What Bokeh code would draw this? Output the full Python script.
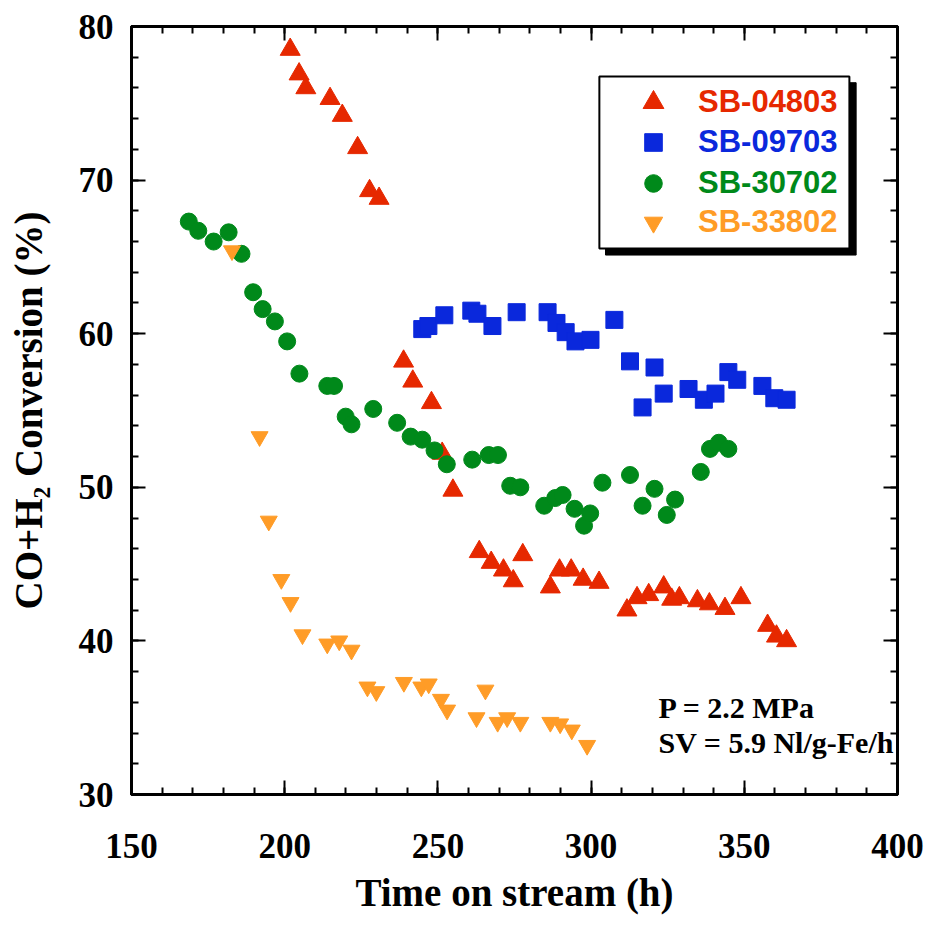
from bokeh.plotting import figure
from bokeh.models import (Range1d, SingleIntervalTicker, LinearAxis, Legend, LegendItem,
                          BoxAnnotation, Label, CustomJSTickFormatter)
from bokeh.embed import file_html
from bokeh.resources import INLINE

# ---- data ----
red_x = [201.8, 204.7, 206.9, 214.8, 218.8, 223.8, 227.7, 230.8, 238.8, 241.8, 247.9, 251.4,
         254.9, 263.5, 267.4, 271.4, 274.6, 277.7, 286.7, 289.7, 293.5, 297.4, 302.6, 311.7,
         315.0, 318.8, 323.7, 326.3, 328.8, 334.7, 338.6, 343.7, 348.9, 357.6, 360.5, 363.8]
red_y = [78.5, 76.9, 76.0, 75.3, 74.2, 72.1, 69.3, 68.8, 58.2, 56.9, 55.5, 52.2,
         49.8, 45.8, 45.1, 44.6, 43.9, 45.6, 43.5, 44.6, 44.6, 44.0, 43.8, 42.0,
         42.8, 43.0, 43.5, 42.7, 42.8, 42.6, 42.4, 42.1, 42.8, 41.0, 40.3, 40.0]

blue_x = [244.9, 246.9, 252.1, 260.9, 262.9, 267.8, 275.7, 285.8, 288.7, 291.7, 294.9, 299.8,
          307.6, 312.7, 316.8, 320.7, 323.7, 331.8, 336.8, 340.6, 344.8, 347.7, 355.9, 359.8, 363.8]
blue_y = [60.3, 60.5, 61.2, 61.5, 61.3, 60.5, 61.4, 61.4, 60.7, 60.1, 59.5, 59.6,
          60.9, 58.2, 55.2, 57.8, 56.1, 56.4, 55.7, 56.1, 57.5, 57.0, 56.6, 55.8, 55.7]

green_x = [168.7, 171.8, 176.8, 181.7, 185.9, 189.7, 192.8, 196.8, 200.8, 204.8, 213.9, 216.1,
           219.9, 221.8, 228.9, 236.7, 241.1, 244.9, 248.9, 252.9, 261.2, 266.6, 269.6, 273.6,
           276.9, 284.7, 288.3, 290.7, 294.6, 297.7, 299.7, 303.7, 312.7, 316.8, 320.7, 324.7,
           327.4, 335.8, 338.8, 341.7, 344.8]
green_y = [67.3, 66.7, 66.0, 66.6, 65.2, 62.7, 61.6, 60.8, 59.5, 57.4, 56.6, 56.6,
           54.6, 54.1, 55.1, 54.2, 53.3, 53.1, 52.4, 51.5, 51.8, 52.1, 52.1, 50.1,
           50.0, 48.8, 49.3, 49.5, 48.6, 47.5, 48.3, 50.3, 50.8, 48.8, 49.9, 48.2,
           49.2, 51.0, 52.5, 52.9, 52.5]

orange_x = [182.8, 191.8, 194.8, 198.9, 201.9, 205.8, 213.9, 217.8, 221.8, 227.0, 229.9, 238.9,
            244.6, 247.0, 251.0, 253.0, 262.6, 265.5, 269.5, 272.6, 276.9, 286.7, 289.9, 293.7, 298.7]
orange_y = [65.4, 53.3, 47.8, 44.0, 42.5, 40.4, 39.8, 40.0, 39.4, 37.0, 36.7, 37.3,
            37.0, 37.2, 36.2, 35.5, 35.0, 36.8, 34.7, 35.0, 34.7, 34.7, 34.6, 34.2, 33.2]

series_names = ["SB-04803", "SB-09703", "SB-30702", "SB-33802"]
series_colors = ["#E62800", "#0A28DC", "#00891A", "#FF9C27"]

x_title = "Time on stream (h)"
y_title = "CO+H\u2082 Conversion (%)"
note_lines = ["P = 2.2 MPa", "SV = 5.9 Nl/g-Fe/h"]

SERIF = "Liberation Serif"
SANS = "Liberation Sans"

p = figure(width=929, height=928, output_backend="svg", toolbar_location=None,
           x_range=Range1d(150, 400), y_range=Range1d(30, 80),
           min_border_left=131, min_border_right=32, min_border_top=26, min_border_bottom=134,
           background_fill_color="white", border_fill_color="white")
p.xgrid.visible = False
p.ygrid.visible = False
p.outline_line_color = "black"
p.outline_line_width = 3
p.outline_line_alpha = 1

p.xaxis.ticker = SingleIntervalTicker(interval=50, num_minor_ticks=5)
p.yaxis.ticker = SingleIntervalTicker(interval=10, num_minor_ticks=5)

def style_axis(ax):
    ax.axis_line_width = 3
    ax.axis_line_color = "black"
    ax.major_tick_in = 14
    ax.major_tick_out = 0
    ax.minor_tick_in = 7
    ax.minor_tick_out = 0
    ax.major_tick_line_width = 2
    ax.minor_tick_line_width = 2
    ax.major_tick_line_color = "black"
    ax.minor_tick_line_color = "black"
    ax.major_label_text_font = SERIF
    ax.major_label_text_font_style = "bold"
    ax.major_label_text_font_size = "35px"
    ax.major_label_text_color = "black"
    ax.axis_label_text_font = SERIF
    ax.axis_label_text_font_style = "bold"
    ax.axis_label_text_font_size = "39px"
    ax.axis_label_text_color = "black"

for ax in (p.xaxis[0], p.yaxis[0]):
    style_axis(ax)
p.xaxis.axis_label = x_title
p.yaxis.axis_label = y_title
p.xaxis.major_label_standoff = 39
p.xaxis.axis_label_standoff = 10
p.yaxis.major_label_standoff = 18
p.yaxis.axis_label_standoff = 26

blank = CustomJSTickFormatter(code="return ''")
top_ax = LinearAxis(ticker=SingleIntervalTicker(interval=50, num_minor_ticks=5), formatter=blank)
right_ax = LinearAxis(ticker=SingleIntervalTicker(interval=10, num_minor_ticks=5), formatter=blank)
for ax in (top_ax, right_ax):
    style_axis(ax)
    ax.major_label_standoff = 0
p.add_layout(top_ax, "above")
p.add_layout(right_ax, "right")

r_red = p.scatter(red_x, red_y, marker="triangle", size=20, color=series_colors[0])
r_blue = p.scatter(blue_x, blue_y, marker="square", size=17, color=series_colors[1])
r_green = p.scatter(green_x, green_y, marker="circle", size=17, color=series_colors[2])
r_orange = p.scatter(orange_x, orange_y, marker="inverted_triangle", size=17, color=series_colors[3])

# legend frame with drop shadow
p.add_layout(BoxAnnotation(left=304.7, right=386.5, top=76.34, bottom=65.12,
                           fill_color="black", fill_alpha=1, line_color="black",
                           line_alpha=1, line_width=1))
p.add_layout(BoxAnnotation(left=302.7, right=384.3, top=76.74, bottom=65.55,
                           fill_color="white", fill_alpha=1, line_color="black",
                           line_alpha=1, line_width=2))

# one legend per series so every label keeps its own colour
leg_specs = [
    (r_red, 52, 496, 666),
    (r_blue, 44, 500, 630),
    (r_green, 44, 500, 589),
    (r_orange, 46, 499, 549),
]
for (rend, g, lx, ly), name, col in zip(leg_specs, series_names, series_colors):
    leg = Legend(items=[LegendItem(label=name, renderers=[rend])], location=(lx, ly),
                 orientation="vertical", background_fill_alpha=0, border_line_color=None,
                 padding=0, margin=0, spacing=0, glyph_width=g, glyph_height=g,
                 label_standoff=45 - g // 2, label_text_font=SANS, label_text_font_style="bold",
                 label_text_font_size="31px", label_text_color=col, label_height=20)
    p.add_layout(leg, "center")

for txt, yy in zip(note_lines, [35.66, 33.39]):
    p.add_layout(Label(x=322.0, y=yy, text=txt, text_font=SERIF, text_font_style="bold",
                       text_font_size="30px", text_color="black", text_baseline="alphabetic"))

open("out.html", "w").write(file_html(p, INLINE))
